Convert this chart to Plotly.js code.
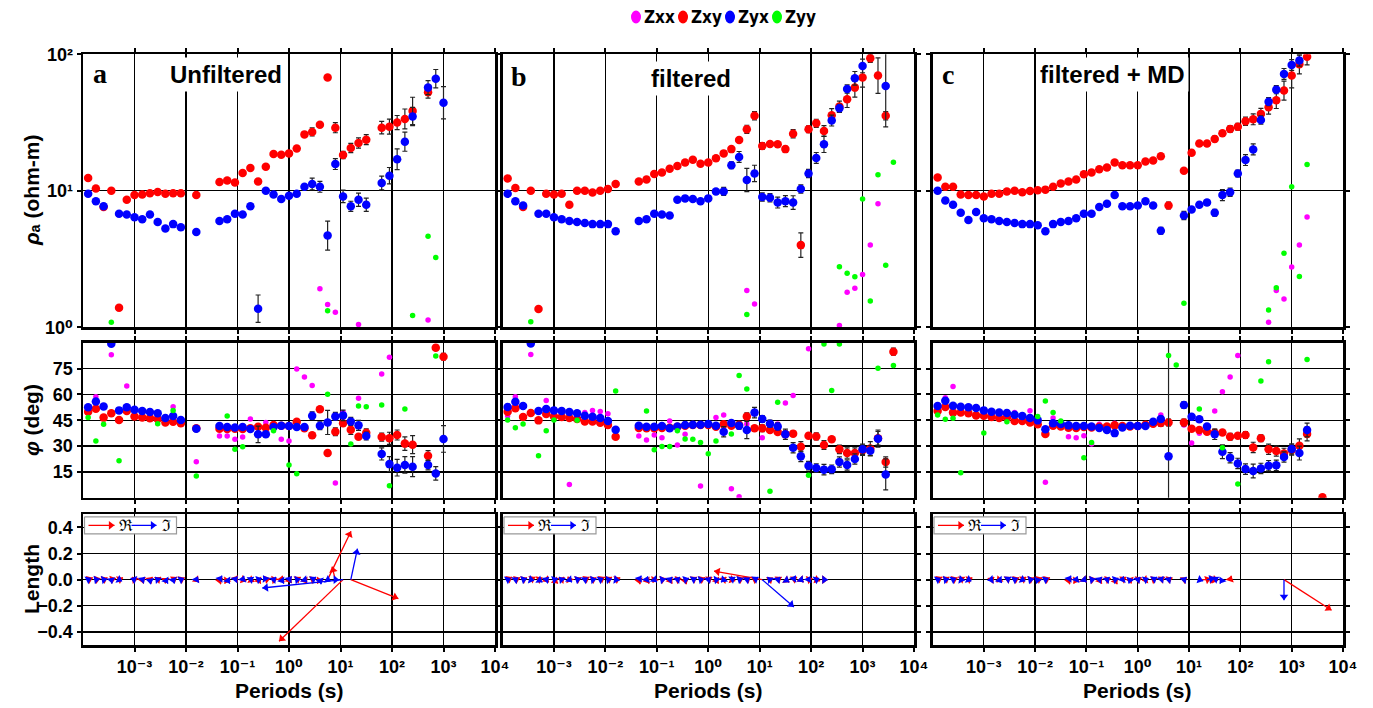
<!DOCTYPE html>
<html>
<head>
<meta charset="utf-8">
<script src="https://cdn.plot.ly/plotly-3.0.1.min.js"></script>
<style>
html,body{margin:0;padding:0;background:#fff;}
#chart{width:1373px;height:708px;}
</style>
</head>
<body>
<div id="chart"></div>
<script>
const _ = null;

// Sounding periods (s)
const periods = [1.259e-4,1.778e-4,2.512e-4,3.548e-4,5.012e-4,7.079e-4,1.000e-3,1.413e-3,1.995e-3,2.818e-3,
  3.981e-3,5.623e-3,7.943e-3,1.122e-2,1.585e-2,2.239e-2,3.162e-2,4.467e-2,6.310e-2,8.913e-2,
  0.1259,0.1778,0.2512,0.3548,0.5012,0.7079,1.000,1.413,1.995,2.818,
  3.981,5.623,7.943,11.22,15.85,22.39,31.62,44.67,63.10,89.13,
  125.9,177.8,251.2,354.8,501.2,707.9,1000,1413,1995,2818,
  3981];

const components = ['Zxx','Zxy','Zyx','Zyy'];
const panelTitles = ['Unfiltered','filtered','filtered + MD'];
const panelLetters = ['a','b','c'];
const xTickVals = [1e-3,1e-2,1e-1,1,10,100,1000,10000];
const xTickText = ['10\u207B\u00B3','10\u207B\u00B2','10\u207B\u00B9','10\u2070','10\u00B9','10\u00B2','10\u00B3','10\u2074'];
const rhoTickVals = [1,10,100];
const rhoTickText = ['10\u2070','10\u00B9','10\u00B2'];
const phiTickVals = [15,30,45,60,75];
const lenTickVals = [-0.4,-0.2,0,0.2,0.4];
const lenTickText = ['\u22120.4','\u22120.2','0.0','0.2','0.4'];

// ---------- a: unfiltered ----------
const rhoXY_a = [12.4,10.4,7.6,10.0,1.39,8.6,9.3,9.4,9.6,9.8,
  9.5,9.6,9.6,_,9.3,_,_,11.6,11.9,11.5,
  13.5,14.7,11.7,15.0,18.6,18.4,18.8,20.4,25.9,27.0,
  30.5,67.5,29.0,18.3,20.6,22.4,23.7,_,29.0,29.5,
  31.6,33.6,38.5,_,52.7,_,_,_,_,_,
  _];
const errXY_a = [0,0,0,0,0,0,0,0,0,0,
  0,0,0,0,0,0,0,0,0,0,
  0,0,0,0,0,0,0,0,0,.03,
  0,.012,.037,.027,.034,.037,.037,0,.046,.055,
  .052,.073,.1,0,.043,0,0,0,0,0,
  0];
const rhoYX_a = [9.5,8.4,7.7,_,6.8,6.7,6.4,6.2,6.7,5.9,
  5.3,5.7,5.4,_,5.0,_,_,6.0,6.2,6.8,
  6.7,7.7,1.37,10.0,9.4,8.7,9.2,9.5,10.7,11.2,
  10.7,4.7,15.7,9.1,7.7,8.6,7.9,_,11.4,12.9,
  17.0,22.9,35.0,_,57.0,66.3,44.2,_,_,_,
  _];
const errYX_a = [0,0,0,0,0,0,0,0,0,0,
  0,0,0,0,0,0,0,0,0,0,
  0,0,.1,0,0,0,0,0,0,.043,
  .04,.106,.04,.046,.037,.049,.049,0,.05,.06,
  .076,.07,.067,0,.052,.067,.118,0,0,0,
  0];
const rhoXX_a = [_,_,_,_,_,_,_,_,_,_,
  _,_,_,_,_,_,_,_,_,_,
  _,_,_,_,_,_,_,_,_,_,
  1.92,1.47,1.29,_,_,1.05,_,_,_,_,
  _,_,_,_,1.13,_,_,_,_,_,
  _];
const rhoYY_a = [_,_,_,1.09,_,_,_,_,_,_,
  _,_,_,_,_,_,_,_,_,_,
  _,_,_,_,_,_,_,_,_,_,
  _,1.32,_,_,_,_,_,_,_,_,
  _,_,1.22,_,4.64,3.24,_,_,_,_,
  _];
const phiXY_a = [49.9,51.7,46.5,49.0,45.1,50.3,47.2,46.6,46.1,45.7,
  43.7,44.1,43.2,_,40.3,_,_,40.1,39.9,40.1,
  39.9,40.3,41.2,40.6,42.2,41.8,41.6,44.1,40.3,36.2,
  51.3,25.9,38.3,43.2,39.5,35.4,37.7,_,35.2,34.5,
  36.4,31.4,30.8,_,24.4,87.1,81.9,_,_,_,
  _];
const ePhiXY_a = [0,0,0,0,0,0,0,0,0,0,
  0,0,0,0,0,0,0,0,0,0,
  0,0,0,0,0,0,0,0,0,1.5,
  0,1.5,2.3,0,2.7,0,2.3,0,2.3,3.5,
  2.9,3.9,5.2,0,2.9,1.5,1.9,0,0,0,
  0];
const phiYX_a = [52.5,55.9,53.0,89.4,50.7,52.5,51.1,50.3,49.7,49.0,
  46.3,47.4,45.1,_,40.1,_,_,41.6,41.0,40.8,
  41.0,39.9,36.8,36.8,41.0,41.8,41.6,41.0,41.0,47.6,
  41.8,43.7,47.2,47.8,44.3,42.0,35.8,_,25.4,19.5,
  17.4,19.0,18.0,_,19.0,14.1,34.1,_,_,_,
  _];
const ePhiYX_a = [0,0,0,0,0,0,0,0,0,0,
  0,0,0,0,0,0,0,0,0,0,
  0,0,4.8,0,0,0,0,0,0,2.3,
  2.3,7,2.3,3,2.3,2.9,2.3,0,3.5,4.3,
  4.8,4.8,5.8,0,2.9,3.9,7.7,0,0,0,
  0];
const phiXX_a = [_,58.6,_,83.0,_,64.8,_,_,_,_,
  _,52.8,_,_,20.9,_,_,35.8,35.8,33.9,
  35.2,45.7,_,43.7,_,33.9,32.9,74.7,70.1,65.2,
  _,_,8.5,49.5,_,57.7,_,_,71.8,81.5,
  _,_,_,_,_,_,_,_,_,_,
  _];
const phiYY_a = [46.6,32.9,42.6,_,21.5,_,_,_,_,43.0,
  _,50.7,_,_,12.6,_,_,_,47.4,28.1,
  29.6,_,_,_,38.9,_,19.0,13.9,_,_,
  _,60.0,_,_,31.2,53.2,52.8,_,53.8,7.0,
  _,51.5,_,_,_,82.3,_,_,_,_,
  _];
const reX_a = [.035,.035,.03,.035,.03,_,-.02,.01,.02,.025,
  0,.03,.03,_,.02,_,_,.01,-.02,.02,
  .03,.03,.02,.035,.03,.01,.02,.03,.02,.03,
  -.02,.179,-.025,-.49,.364,_,_,_,_,_,
  _,_,_,_,_,_,_,_,_,_,
  _];
const reY_a = [.015,.01,.015,.01,.015,_,.02,-.03,.02,.02,
  -.03,.02,.015,_,-.02,_,_,-.035,-.03,.03,
  -.01,-.015,-.03,.01,.005,.03,-.025,.02,-.03,.01,
  -.03,.371,.1,-.471,-.145,_,_,_,_,_,
  _,_,_,_,_,_,_,_,_,_,
  _];
const imX_a = [.02,.03,.025,.005,.02,_,-.03,.02,.005,-.02,
  .02,.01,.02,_,.01,_,_,.02,.02,.02,
  .01,.025,.03,-.02,.02,.02,.02,.03,.02,.03,
  .01,.02,.03,-.618,.051,_,_,_,_,_,
  _,_,_,_,_,_,_,_,_,_,
  _];
const imY_a = [.01,.005,.005,-.03,-.01,_,.01,.02,-.035,.02,
  -.03,-.03,.01,_,.02,_,_,.03,-.03,.025,
  .03,.02,.01,.03,.02,-.03,.025,.005,-.02,.02,
  -.035,-.01,0,-.064,.237,_,_,_,_,_,
  _,_,_,_,_,_,_,_,_,_,
  _];

// ---------- b: filtered ----------
const rhoXY_b = [12.3,10.5,7.6,10.0,1.36,9.5,9.4,9.5,7.9,10.0,
  10.0,9.7,10.0,10.3,11.2,_,_,11.7,12.1,13.3,
  13.6,14.5,15.2,16.1,16.9,15.8,16.1,17.3,18.8,20.2,
  23.6,28.2,35.5,21.3,22.0,21.9,20.2,26.2,4.0,28.2,
  31.2,27.4,35.7,41.4,46.8,57.0,67.5,93.5,69.8,35.5,
  _];
const errXY_b = [0,0,0,0,0,0,0,0,0,0,
  0,0,0,0,0,0,0,0,0,0,
  0,0,0,0,0,0,0,0,0,0,
  0,.03,.03,.025,0,0,.02,.03,.09,.025,
  .03,.04,.05,.04,.06,.07,.07,.03,.13,.03,
  0];
const rhoYX_b = [9.5,8.4,7.8,_,6.8,6.8,6.4,6.2,6.0,5.9,
  5.8,5.7,5.7,5.7,5.05,_,_,6.0,6.2,6.8,
  6.7,6.6,8.6,8.8,8.7,8.4,8.8,9.9,9.9,15.4,
  17.7,12.0,13.4,9.0,8.9,8.2,8.4,8.2,10.3,13.4,
  17.4,21.9,32.7,40.2,55.7,66.7,82.2,_,_,58.6,
  _];
const errYX_b = [0,0,0,0,0,0,0,0,0,0,
  0,0,0,0,0,0,0,0,0,0,
  0,0,0,0,0,0,0,0,.03,.025,
  .04,.085,.06,.03,.03,.04,.04,.05,.03,.03,
  .04,.06,.04,.03,.03,.05,.05,0,0,.3,
  0];
const rhoXX_b = [_,_,_,_,_,_,_,_,_,_,
  _,_,_,_,_,_,_,_,_,_,
  _,_,_,_,_,_,_,_,_,_,
  _,1.86,1.48,_,_,_,_,_,_,_,
  _,_,_,1.03,1.81,1.93,2.44,4.01,8.05,_,
  _];
const rhoYY_b = [_,_,_,1.10,_,_,_,_,_,_,
  _,_,_,_,_,_,_,_,_,_,
  _,_,_,_,_,_,_,_,_,_,
  _,1.24,_,_,_,_,_,_,_,_,
  _,_,_,2.78,2.49,2.35,8.71,1.56,13.1,2.85,
  16.2];
const phiXY_b = [49.9,51.9,46.8,49.2,44.9,48.6,47.2,46.8,46.3,45.7,
  44.3,44.3,43.5,42.2,35.4,_,_,40.5,40.3,40.3,
  40.5,40.6,41.2,41.8,42.2,42.2,42.2,41.2,42.6,41.8,
  42.4,47.2,40.3,40.3,39.3,38.1,36.8,37.2,29.6,36.0,
  35.6,30.6,33.9,28.1,25.9,25.9,27.5,28.6,34.5,20.7,
  84.8];
const ePhiXY_b = [0,0,0,0,0,0,0,0,0,0,
  0,0,0,0,0,0,0,0,0,0,
  0,0,0,0,0,0,0,0,0,0,
  0,2,1.5,2,0,0,2,0,3,0,
  2,2.5,0,2.5,3,3,3,4,4,3,
  2];
const phiYX_b = [52.6,55.7,53.2,89.6,50.3,51.5,50.7,50.3,49.7,49.0,
  47.6,47.0,46.3,44.5,39.5,_,_,41.8,41.2,41.2,
  41.6,40.3,41.4,42.2,42.4,42.4,42.8,41.8,38.3,43.4,
  41.8,39.3,49.4,45.7,43.0,41.4,36.8,29.0,24.0,18.6,
  17.2,16.3,16.5,20.7,19.0,22.5,28.1,27.3,34.3,13.5,
  _];
const ePhiYX_b = [0,0,0,0,0,0,0,0,0,0,
  0,0,0,0,0,0,0,0,0,0,
  0,0,0,0,0,0,0,0,3,0,
  2,5,3,2,2,2,3,3,3,2.5,
  2.5,3,2.5,3,3,3,3,3,5,9,
  0];
const phiXX_b = [47.4,58.6,_,83.2,_,56.5,_,_,7.7,_,
  49.4,50.7,50.1,48.8,_,_,_,35.8,33.5,36.4,
  34.8,44.5,30.6,36.8,_,6.8,_,46.6,48.0,5.2,
  0.6,42.8,_,34.8,_,42.8,55.0,59.4,_,86.5,
  _,_,_,_,_,_,_,_,_,_,
  _];
const phiYY_b = [45.1,40.6,42.8,_,24.4,38.9,45.1,_,_,44.9,
  _,_,_,_,61.9,_,_,_,50.3,27.9,
  29.8,29.8,38.9,34.1,33.9,32.1,25.5,32.9,_,37.0,
  71.0,63.1,_,_,3.7,55.4,_,_,_,13.0,
  _,89.2,62.3,89.2,_,_,_,_,75.1,_,
  76.8];
const reX_b = [.035,.035,.03,.035,.03,.02,.03,.02,-.01,.03,
  .035,.03,.035,.03,.035,_,_,.01,.02,-.01,
  .03,.02,.03,.01,.03,.035,.03,.02,.02,.03,
  .035,.03,.02,-.369,.02,.03,.03,.03,.02,.03,
  .03,.03,_,_,_,_,_,_,_,_,
  _];
const reY_b = [.02,.015,.015,.02,.015,-.02,-.03,.02,.02,.015,
  .02,.015,.02,.02,.015,_,_,-.035,-.03,-.02,
  .01,-.03,.01,-.035,.02,.015,.02,-.03,.02,-.01,
  .015,.02,.01,.066,.015,.02,-.02,.02,-.02,.01,
  -.01,0,_,_,_,_,_,_,_,_,
  _];
const imX_b = [.02,.02,.03,.02,.03,.02,.03,-.02,.02,.03,
  .02,.03,.02,.03,.03,_,_,.02,.01,.02,
  .03,.02,.02,.03,.03,.02,.02,.03,-.02,.03,
  .03,.02,.03,.242,-.02,.02,.03,.02,.02,.01,
  .02,.03,_,_,_,_,_,_,_,_,
  _];
const imY_b = [.01,.015,.01,-.005,-.02,.02,.01,.02,-.02,.01,
  .015,.005,.01,.005,-.005,_,_,.03,.025,-.02,
  .005,.02,.02,.01,.015,.005,.02,.005,-.02,.02,
  .01,.015,.02,-.209,.02,.02,-.02,.03,-.02,.02,
  .01,0,_,_,_,_,_,_,_,_,
  _];

// ---------- c: filtered + MD ----------
const rhoXY_c = [12.5,10.7,10.7,9.4,9.3,9.3,9.1,9.5,9.5,9.9,
  10.0,9.75,9.97,10.1,10.2,10.7,11.3,11.7,12.1,13.2,
  13.6,14.4,14.8,16.1,15.4,15.4,15.4,16.4,16.7,17.9,
  7.8,_,14.0,19.0,22.2,22.2,24.0,26.4,28.4,29.5,
  32.3,33.4,36.6,40.9,46.0,54.2,69.8,84.5,96.1,_,
  _];
const errXY_c = [0,0,0,0,0,0,0,0,0,0,
  0,0,0,0,0,0,0,0,0,0,
  0,0,0,0,0,0,0,0,0,0,
  .025,0,0,0,0,0,.02,.02,.025,.025,
  .03,.04,.04,.05,.06,.07,.09,.07,.06,0,
  0];
const rhoYX_c = [10.0,8.5,7.9,6.9,6.1,7.0,6.3,6.2,6.0,5.9,
  5.8,5.7,5.7,5.6,5.05,5.7,5.9,6.0,6.3,6.8,
  6.8,7.6,8.05,9.3,7.7,7.7,7.8,8.4,7.8,5.1,
  _,_,6.6,7.3,7.9,8.2,6.9,9.3,9.75,13.4,
  16.8,20.1,33.0,45.0,55.1,71.8,83.5,89.9,_,_,
  _];
const errYX_c = [0,0,0,0,0,0,0,0,0,0,
  0,0,0,0,0,0,0,0,0,0,
  0,0,0,0,0,0,0,0,0,.025,
  0,0,.03,0,0,.02,.025,.04,.03,.025,
  .04,.04,.03,.03,.03,.04,.04,.04,0,0,
  0];
const rhoXX_c = [_,_,_,_,_,_,_,_,_,_,
  _,_,_,_,_,_,_,_,_,_,
  _,_,_,_,_,_,_,_,_,_,
  _,_,_,_,_,_,_,_,_,_,
  _,_,_,1.09,1.86,1.61,2.77,4.01,6.43,_,
  _];
const rhoYY_c = [_,_,_,_,_,_,_,_,_,_,
  _,_,_,_,_,_,_,_,_,_,
  _,_,_,_,_,_,_,_,_,_,
  _,_,1.50,_,_,_,_,_,_,_,
  _,_,_,1.34,1.95,3.48,10.7,2.36,15.6,_,
  _];
const phiXY_c = [50.3,52.6,49.4,49.5,49.0,47.8,47.6,46.8,46.3,46.5,
  44.5,44.5,43.7,42.6,37.0,41.8,41.4,40.6,40.5,41.0,
  40.8,41.2,41.4,42.0,41.6,41.4,41.6,42.4,43.0,43.4,
  43.7,_,43.7,40.1,39.3,38.3,37.7,37.9,35.4,36.0,
  36.4,29.2,34.5,28.1,27.1,25.7,27.7,30.2,37.0,_,
  0.2];
const ePhiXY_c = [0,0,0,0,0,0,0,0,0,0,
  0,0,0,0,0,0,0,0,0,0,
  0,0,0,0,0,0,0,0,0,2,
  2,0,2,0,0,0,2,0,2,0,
  2,3,2,3,3,3,3,4,4,0,
  0];
const phiYX_c = [53.2,56.3,53.4,52.8,52.5,52.1,50.7,49.9,49.5,49.2,
  48.2,47.4,46.3,44.9,39.7,43.2,42.8,42.0,41.6,41.6,
  41.4,40.5,39.3,37.5,40.8,41.8,41.6,41.6,44.1,45.7,
  24.0,_,53.8,47.0,45.5,41.4,36.8,26.7,23.2,19.9,
  16.6,15.5,17.0,18.6,18.8,23.6,28.3,25.9,39.3,_,
  _];
const ePhiYX_c = [0,0,0,0,0,0,0,0,0,0,
  0,0,0,0,0,0,0,0,0,0,
  0,0,0,0,0,0,0,0,0,0,
  70,0,2,0,0,0,3,4,3,3,
  3,4,3,3,3,3,3,4,4,0,
  0];
const phiXX_c = [_,58.1,64.6,_,_,_,_,_,_,_,
  49.5,_,50.5,_,8.9,46.3,_,35.4,34.8,36.0,
  31.2,42.6,_,43.2,_,_,_,_,_,48.0,
  _,_,42.2,31.7,37.4,_,50.3,61.5,70.1,82.5,
  _,_,_,_,_,_,_,_,_,_,
  _];
const phiYY_c = [48.0,45.5,46.1,14.5,_,_,37.5,_,_,44.1,
  _,_,_,47.2,56.1,49.4,44.5,_,_,23.2,
  32.1,_,_,_,_,_,_,_,_,_,
  82.5,77.0,_,_,51.5,_,_,29.0,_,7.9,
  _,_,67.7,79.0,_,_,_,_,80.3,_,
  _];
const reX_c = [.035,.03,.035,.03,.03,_,_,.02,-.02,.03,
  .035,.03,.03,.035,.035,_,_,.01,-.02,.02,
  .03,.02,.03,.02,.03,.01,.03,-.02,.03,.03,
  .03,_,.02,_,.127,.03,.02,_,.01,_,
  _,_,_,_,_,.364,_,_,_,_,
  _];
const reY_c = [.02,.02,.015,.02,.015,_,_,.02,-.02,.02,
  .015,.02,.015,.015,.015,_,_,-.035,-.03,-.02,
  .01,-.03,.01,-.035,.02,-.03,.015,-.005,.01,.02,
  .015,_,.015,_,0,.01,-.005,_,.03,_,
  _,_,_,_,_,-.234,_,_,_,_,
  _];
const imX_c = [.02,.03,.02,.03,.02,_,_,-.03,.02,.03,
  .02,.02,.03,-.01,.02,_,_,.02,.01,.02,
  .03,.02,.02,.03,.01,-.01,.02,.02,.03,.02,
  .02,_,.02,_,.03,.06,.03,-.02,_,_,
  _,_,_,_,_,0,_,_,_,_,
  _];
const imY_c = [.01,.005,.01,-.005,-.01,_,_,-.005,-.025,.02,
  .01,-.01,.005,-.03,.01,_,_,.03,.025,-.02,
  .005,.02,.02,.01,.025,-.03,.02,.01,.02,.025,
  .02,_,.02,_,-.01,.01,.02,-.03,_,_,
  _,_,_,_,_,-.158,_,_,_,_,
  _];

// ---------- figure assembly ----------
const W = 1373, H = 708;
const FONT = 'Liberation Sans, Arial, Helvetica, DejaVu Sans, sans-serif';
const colPx = [[83,495],[502.5,914],[932.5,1343]];
const rowPx = [[54.3,327.3],[342.7,497.7],[514.3,645]];
const colors = {Zxx:'#ff00ff', Zxy:'#ff0000', Zyx:'#0000ff', Zyy:'#00ff00'};
const sizes = {Zxx:5.5, Zxy:8.5, Zyx:8.5, Zyy:5.5};

const columns = [
  {rho:{Zxx:rhoXX_a,Zxy:rhoXY_a,Zyx:rhoYX_a,Zyy:rhoYY_a}, rhoErr:{Zxy:errXY_a,Zyx:errYX_a},
   phi:{Zxx:phiXX_a,Zxy:phiXY_a,Zyx:phiYX_a,Zyy:phiYY_a}, phiErr:{Zxy:ePhiXY_a,Zyx:ePhiYX_a},
   tip:{reX:reX_a,reY:reY_a,imX:imX_a,imY:imY_a}},
  {rho:{Zxx:rhoXX_b,Zxy:rhoXY_b,Zyx:rhoYX_b,Zyy:rhoYY_b}, rhoErr:{Zxy:errXY_b,Zyx:errYX_b},
   phi:{Zxx:phiXX_b,Zxy:phiXY_b,Zyx:phiYX_b,Zyy:phiYY_b}, phiErr:{Zxy:ePhiXY_b,Zyx:ePhiYX_b},
   tip:{reX:reX_b,reY:reY_b,imX:imX_b,imY:imY_b}},
  {rho:{Zxx:rhoXX_c,Zxy:rhoXY_c,Zyx:rhoYX_c,Zyy:rhoYY_c}, rhoErr:{Zxy:errXY_c,Zyx:errYX_c},
   phi:{Zxx:phiXX_c,Zxy:phiXY_c,Zyx:phiYX_c,Zyy:phiYY_c}, phiErr:{Zxy:ePhiXY_c,Zyx:ePhiYX_c},
   tip:{reX:reX_c,reY:reY_c,imX:imX_c,imY:imY_c}}
];

const px2x = p => p / W;
const px2y = p => 1 - p / H;
const axName = (letter, n) => n === 1 ? letter : letter + n;
const axKey = (letter, n) => letter + 'axis' + (n === 1 ? '' : n);
const bold = s => '<b>' + s + '</b>';

// error bars for a log axis, half-widths given in decades
function logErr(vals, errs) {
  return {
    type:'data', symmetric:false, color:'#222', thickness:1.2, width:2.5,
    array: vals.map((v,i) => (v == null || !errs[i]) ? 0 : v * (Math.pow(10, errs[i]) - 1)),
    arrayminus: vals.map((v,i) => (v == null || !errs[i]) ? 0 : v * (1 - Math.pow(10, -errs[i])))
  };
}
function linErr(vals, errs) {
  return {type:'data', symmetric:true, color:'#222', thickness:1.2, width:2.5,
    array: vals.map((v,i) => (v == null || !errs[i]) ? 0 : errs[i])};
}

const data = [];
const layout = {
  width: W, height: H,
  margin: {l:0, r:0, t:0, b:0},
  paper_bgcolor:'#fff', plot_bgcolor:'#fff',
  showlegend:false, hovermode:false,
  font:{family:FONT, color:'#000'},
  annotations: [], shapes: []
};

function baseAxis() {
  return {showline:true, mirror:'ticks', linecolor:'#000', linewidth:2.5,
    ticks:'outside', ticklen:4, tickwidth:2, tickcolor:'#000',
    showgrid:true, gridcolor:'#000', gridwidth:1.3, zeroline:false, fixedrange:true,
    tickfont:{family:FONT, size:18, color:'#000'}};
}

for (let r = 0; r < 3; r++) {
  for (let c = 0; c < 3; c++) {
    const n = r * 3 + c + 1;
    const xa = Object.assign(baseAxis(), {
      type:'log', range:[-4,4], domain:[px2x(colPx[c][0]), px2x(colPx[c][1])],
      anchor: axName('y', n), tickmode:'array', tickvals:xTickVals,
      ticktext: xTickText.map(bold), showticklabels: r === 2
    });
    const ya = Object.assign(baseAxis(), {
      domain:[px2y(rowPx[r][1]), px2y(rowPx[r][0])], anchor: axName('x', n),
      showticklabels: c === 0, tickmode:'array'
    });
    if (r === 0) { ya.type = 'log'; ya.range = [0,2]; ya.tickvals = rhoTickVals; ya.ticktext = rhoTickText.map(bold); }
    if (r === 1) { ya.range = [0,90]; ya.tickvals = phiTickVals; ya.ticktext = phiTickVals.map(v => bold(String(v))); }
    if (r === 2) { ya.range = [-0.5,0.5]; ya.tickvals = lenTickVals; ya.ticktext = lenTickText.map(bold); }
    layout[axKey('x', n)] = xa;
    layout[axKey('y', n)] = ya;
  }
}

// impedance curves: apparent resistivity (row 0) and phase (row 1)
columns.forEach((col, c) => {
  components.forEach(comp => {
    const rhoTrace = {
      type:'scatter', mode:'markers', name:comp, x:periods, y:col.rho[comp],
      xaxis: axName('x', c + 1), yaxis: axName('y', c + 1),
      marker:{color:colors[comp], size:sizes[comp], line:{width:0}}
    };
    if (col.rhoErr[comp]) rhoTrace.error_y = logErr(col.rho[comp], col.rhoErr[comp]);
    data.push(rhoTrace);
    const phiTrace = {
      type:'scatter', mode:'markers', name:comp, x:periods, y:col.phi[comp],
      xaxis: axName('x', c + 4), yaxis: axName('y', c + 4),
      marker:{color:colors[comp], size:sizes[comp], line:{width:0}}
    };
    if (col.phiErr[comp]) phiTrace.error_y = linErr(col.phi[comp], col.phiErr[comp]);
    data.push(phiTrace);
  });
});

// induction arrows (row 2): a shaft from the tail plus a rotated triangle at the tip
const HEAD = 7.5;
function arrowTraces(items, color, xaxis, yaxis, decPerUnit, pxPerLen) {
  // items: [tailLog, tailY, dxLen, dyLen]
  const lx = [], ly = [], hx = [], hy = [], ang = [];
  items.forEach(([L, y0, dx, dy]) => {
    const len = Math.hypot(dx, dy);
    if (!len) return;
    lx.push(Math.pow(10, L), Math.pow(10, L + dx * decPerUnit), null);
    ly.push(y0, y0 + dy, null);
    const back = Math.min(HEAD / 2 / pxPerLen, len);
    const ux = dx / len, uy = dy / len;
    hx.push(Math.pow(10, L + (dx - ux * back) * decPerUnit));
    hy.push(y0 + dy - uy * back);
    ang.push(Math.atan2(dx, dy) * 180 / Math.PI);
  });
  return [
    {type:'scatter', mode:'lines', x:lx, y:ly, xaxis, yaxis, line:{color, width:1.3}, showlegend:false, hoverinfo:'skip'},
    {type:'scatter', mode:'markers', x:hx, y:hy, xaxis, yaxis, showlegend:false, hoverinfo:'skip',
     marker:{symbol:'triangle-up', size:HEAD, color, angle:ang, line:{width:0}}}
  ];
}

columns.forEach((col, c) => {
  const n = 7 + c;
  const xr = axName('x', n), yr = axName('y', n);
  const colW = colPx[c][1] - colPx[c][0];
  const rowH = rowPx[2][1] - rowPx[2][0];
  const pxPerLen = rowH / 1.0;
  const decPerUnit = pxPerLen / (colW / 8);
  const collect = (vx, vy) => {
    const out = [];
    periods.forEach((t, i) => {
      if (vx[i] == null || vy[i] == null) return;
      out.push([Math.log10(t), 0, vx[i], vy[i]]);
    });
    return out;
  };
  arrowTraces(collect(col.tip.reX, col.tip.reY), '#ff0000', xr, yr, decPerUnit, pxPerLen).forEach(t => data.push(t));
  arrowTraces(collect(col.tip.imX, col.tip.imY), '#0000ff', xr, yr, decPerUnit, pxPerLen).forEach(t => data.push(t));

  // key box for real / imaginary arrows in the panel's top-left corner
  const toLogX = p => -4 + (p - colPx[c][0]) / colW * 8;
  const toY = p => 0.5 - (p - rowPx[2][0]) / rowH;
  const bx0 = colPx[c][0] + 1.5, bx1 = bx0 + 92, by0 = rowPx[2][0] + 2.5, by1 = by0 + 17;
  data.push({type:'scatter', mode:'lines', fill:'toself', fillcolor:'#fff',
    x:[bx0,bx1,bx1,bx0,bx0].map(p => Math.pow(10, toLogX(p))),
    y:[by0,by0,by1,by1,by0].map(toY), xaxis:xr, yaxis:yr,
    line:{color:'#999', width:1.2}, showlegend:false, hoverinfo:'skip'});
  const ky = toY(by0 + 8.5);
  arrowTraces([[toLogX(bx0 + 4), ky, 26 / pxPerLen, 0]], '#ff0000', xr, yr, decPerUnit, pxPerLen).forEach(t => data.push(t));
  arrowTraces([[toLogX(bx0 + 47), ky, 25 / pxPerLen, 0]], '#0000ff', xr, yr, decPerUnit, pxPerLen).forEach(t => data.push(t));
  layout.annotations.push({xref:'paper', yref:'paper', x:px2x(bx0 + 32), y:px2y(by0 + 8.5), xanchor:'left', yanchor:'middle',
    text:'\u211C', showarrow:false, font:{family:'DejaVu Serif, serif', size:16, color:'#000'}});
  layout.annotations.push({xref:'paper', yref:'paper', x:px2x(bx0 + 75), y:px2y(by0 + 8.5), xanchor:'left', yanchor:'middle',
    text:'\u2111', showarrow:false, font:{family:'DejaVu Serif, serif', size:16, color:'#000'}});
});

// panel letters and titles
const letterPos = [[100,73],[519,77],[948,75]];
const titlePos = [[226,75],[691,78],[1112,75]];
columns.forEach((col, c) => {
  layout.annotations.push({xref:'paper', yref:'paper', x:px2x(letterPos[c][0]), y:px2y(letterPos[c][1]),
    text:bold(panelLetters[c]), showarrow:false, xanchor:'center', yanchor:'middle',
    font:{family:'Liberation Serif, Times New Roman, serif', size:28, color:'#000'}});
  layout.annotations.push({xref:'paper', yref:'paper', x:px2x(titlePos[c][0]), y:px2y(titlePos[c][1]),
    text:bold(panelTitles[c]), showarrow:false, xanchor:'center', yanchor:'middle',
    bgcolor:'#fff', borderpad:3, font:{family:FONT, size:24, color:'#000'}});
  layout.annotations.push({xref:'paper', yref:'paper', x:px2x((colPx[c][0] + colPx[c][1]) / 2), y:px2y(690),
    text:bold('Periods (s)'), showarrow:false, xanchor:'center', yanchor:'middle',
    font:{family:FONT, size:21, color:'#000'}});
});

// y-axis titles
[['<i>\u03C1</i>\u2090 (ohm-m)', 191], ['<i>\u03C6</i> (deg)', 420], ['Length', 579]].forEach(([t, y]) => {
  layout.annotations.push({xref:'paper', yref:'paper', x:px2x(31), y:px2y(y), textangle:-90,
    text:bold(t), showarrow:false, xanchor:'center', yanchor:'middle',
    font:{family:FONT, size:21, color:'#000'}});
});

// component key along the top
const keyX = [636, 683, 730, 777];
components.forEach((comp, i) => {
  const cx = keyX[i], cy = 17;
  layout.shapes.push({type:'circle', xref:'paper', yref:'paper',
    x0:px2x(cx - 5), x1:px2x(cx + 5), y0:px2y(cy + 6.5), y1:px2y(cy - 6.5),
    line:{width:0}, fillcolor:colors[comp]});
  layout.annotations.push({xref:'paper', yref:'paper', x:px2x(cx + 6), y:px2y(cy), xanchor:'left', yanchor:'middle',
    text:bold(comp), showarrow:false,
    font:{family:'DejaVu Sans Condensed, Liberation Sans Narrow, ' + FONT, size:17, color:'#000'}});
});

Plotly.newPlot('chart', data, layout, {staticPlot:true, displayModeBar:false});
</script>
</body>
</html>
